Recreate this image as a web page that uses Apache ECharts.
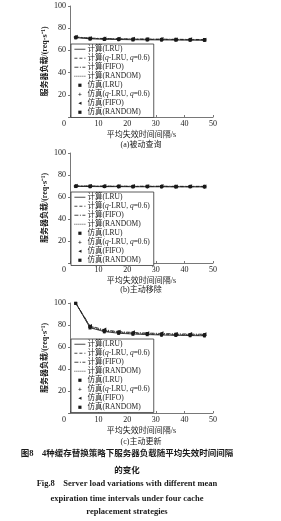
<!DOCTYPE html>
<html><head><meta charset="utf-8">
<script src="https://cdn.jsdelivr.net/npm/echarts@6/dist/echarts.min.js"></script>
<style>html,body{margin:0;padding:0;background:#fff}#c{width:281px;height:521px}</style>
</head><body><div id="c"></div>
<script>
// ---------- data ----------
const xValues = [2, 7, 12, 17, 22, 27, 32, 37, 42, 47];
const xTicks = [0, 10, 20, 30, 40, 50];
const yTicks = [0, 20, 40, 60, 80, 100];

// (a) passive query
const aCalcLRU    = [71.5, 70.4, 70.0, 69.8, 69.6, 69.5, 69.4, 69.3, 69.2, 69.1];
const aCalcQLRU   = [71.8, 70.8, 70.4, 70.2, 70.0, 69.9, 69.8, 69.7, 69.6, 69.5];
const aCalcFIFO   = [72.1, 71.1, 70.7, 70.5, 70.3, 70.2, 70.1, 70.0, 69.9, 69.8];
const aCalcRANDOM = [71.9, 70.9, 70.5, 70.3, 70.2, 70.1, 70.0, 69.9, 69.8, 69.7];
const aSimLRU     = [71.3, 70.2, 69.8, 69.7, 69.4, 69.4, 69.3, 69.2, 69.1, 69.0];
const aSimQLRU    = [71.9, 70.6, 70.5, 70.1, 70.1, 69.8, 69.9, 69.6, 69.7, 69.4];
const aSimFIFO    = [72.2, 71.0, 70.8, 70.4, 70.4, 70.1, 70.2, 69.9, 70.0, 69.7];
const aSimRANDOM  = [71.8, 70.9, 70.4, 70.4, 70.1, 70.2, 69.9, 70.0, 69.7, 69.8];

// (b) active removal
const bCalcLRU    = [69.6, 69.5, 69.4, 69.4, 69.3, 69.3, 69.3, 69.2, 69.2, 69.2];
const bCalcQLRU   = [69.8, 69.7, 69.6, 69.6, 69.5, 69.5, 69.5, 69.4, 69.4, 69.4];
const bCalcFIFO   = [70.1, 70.0, 69.9, 69.9, 69.8, 69.8, 69.8, 69.7, 69.7, 69.7];
const bCalcRANDOM = [70.0, 69.9, 69.8, 69.8, 69.7, 69.7, 69.7, 69.6, 69.6, 69.6];
const bSimLRU     = [69.5, 69.4, 69.5, 69.3, 69.2, 69.4, 69.2, 69.1, 69.3, 69.1];
const bSimQLRU    = [69.9, 69.6, 69.7, 69.5, 69.6, 69.4, 69.6, 69.3, 69.5, 69.3];
const bSimFIFO    = [70.2, 69.9, 70.0, 69.8, 69.9, 69.7, 69.9, 69.6, 69.8, 69.6];
const bSimRANDOM  = [69.9, 70.0, 69.7, 69.9, 69.6, 69.8, 69.6, 69.7, 69.5, 69.7];

// (c) active update
const cCalcLRU    = [100, 77.5, 74.0, 72.5, 71.8, 71.3, 70.9, 70.6, 70.4, 70.2];
const cCalcQLRU   = [100, 78.0, 74.5, 73.0, 72.2, 71.7, 71.3, 71.0, 70.8, 70.6];
const cCalcFIFO   = [100, 79.2, 75.6, 74.0, 73.2, 72.7, 72.3, 72.0, 71.8, 71.6];
const cCalcRANDOM = [100, 78.6, 75.0, 73.5, 72.7, 72.2, 71.8, 71.5, 71.3, 71.1];
const cSimLRU     = [99.6, 77.3, 73.8, 72.4, 71.6, 71.2, 70.8, 70.5, 70.3, 70.1];
const cSimQLRU    = [100.2, 78.2, 74.4, 73.1, 72.1, 71.8, 71.2, 71.1, 70.7, 70.7];
const cSimFIFO    = [100.3, 79.0, 75.8, 73.9, 73.3, 72.6, 72.4, 71.9, 71.9, 71.5];
const cSimRANDOM  = [99.8, 78.5, 74.9, 73.6, 72.6, 72.3, 71.7, 71.6, 71.2, 71.2];

const calcNames = ['计算(LRU)', '计算(q-LRU, q=0.6)', '计算(FIFO)', '计算(RANDOM)'];
const simNames  = ['仿真(LRU)', '仿真(q-LRU, q=0.6)', '仿真(FIFO)', '仿真(RANDOM)'];
const panelTitles = ['(a)被动查询', '(b)主动移除', '(c)主动更新'];
const xAxisName = '平均失效时间间隔/s';
const yAxisName = '服务器负载/(req·s⁻¹)';
const captionLines = [
  '图8　4种缓存替换策略下服务器负载随平均失效时间间隔',
  '的变化',
  'Fig.8　Server load variations with different mean',
  'expiration time intervals under four cache',
  'replacement strategies'
];

const panels = [
  {calc: [aCalcLRU, aCalcQLRU, aCalcFIFO, aCalcRANDOM], sim: [aSimLRU, aSimQLRU, aSimFIFO, aSimRANDOM]},
  {calc: [bCalcLRU, bCalcQLRU, bCalcFIFO, bCalcRANDOM], sim: [bSimLRU, bSimQLRU, bSimFIFO, bSimRANDOM]},
  {calc: [cCalcLRU, cCalcQLRU, cCalcFIFO, cCalcRANDOM], sim: [cSimLRU, cSimQLRU, cSimFIFO, cSimRANDOM]}
];

// ---------- styling / layout ----------
const FONT = '"Liberation Serif","Noto Sans CJK SC",serif';
const INK = '#1a1a1a';
const gridTops = [6, 153, 303];
const gridHeights = [111, 110, 110];
const legendTops = [44, 192, 339];
const titleY = [145, 290, 442];
const captionY = [454, 471, 484, 499, 512];
const dashes = ['solid', [3, 2], [4, 1.5, 1, 1.5], [1, 1]];
const plusPath = 'path://M4,0H6V4H10V6H6V10H4V6H0V4H4Z';
const simSymbols = [
  {symbol: 'rect', size: 3, rotate: 0},
  {symbol: plusPath, size: 4, rotate: 0},
  {symbol: 'triangle', size: 4, rotate: 90},
  {symbol: 'rect', size: 3, rotate: 0}
];

const grids = [], xAxes = [], yAxes = [], series = [], legends = [], graphics = [];

const legendData = calcNames.map((n, k) => ({name: n, itemStyle: {opacity: 0},
    lineStyle: {width: 0.8, color: INK, type: dashes[k], opacity: 1}}))
  .concat(simNames.map(n => ({name: n, lineStyle: {opacity: 0, width: 0}})));

panels.forEach((p, i) => {
  grids.push({left: 70, width: 143, top: gridTops[i], height: gridHeights[i]});
  xAxes.push({
    type: 'value', gridIndex: i, min: 0, max: 50, interval: 10,
    name: xAxisName, nameLocation: 'middle', nameGap: 14, nameMoveOverlap: false,
    nameTextStyle: {fontFamily: FONT, fontSize: 8, color: INK},
    axisLine: {show: true, lineStyle: {color: '#555', width: 0.8}},
    axisTick: {show: true, inside: true, length: 2, lineStyle: {color: '#555', width: 0.8}},
    axisLabel: {
      fontFamily: FONT, fontSize: 8, color: INK, margin: 3,
      formatter: v => v === 0 ? '{o|0}' : String(v),
      rich: {o: {fontFamily: FONT, fontSize: 8, color: INK, padding: [0, 12, 0, 0]}}
    },
    splitLine: {show: false}
  });
  yAxes.push({
    type: 'value', gridIndex: i, min: 0, max: 100, interval: 20,
    name: yAxisName, nameLocation: 'middle', nameGap: 21, nameRotate: 90, nameMoveOverlap: false,
    nameTextStyle: {fontFamily: FONT, fontSize: 8, color: INK, fontWeight: 'bold'},
    axisLine: {show: true, lineStyle: {color: '#555', width: 0.8}},
    axisTick: {show: true, length: 2, lineStyle: {color: '#555', width: 0.8}},
    axisLabel: {fontFamily: FONT, fontSize: 8, color: INK, margin: 4, formatter: v => v === 0 ? '' : String(v)},
    splitLine: {show: false}
  });
  p.calc.forEach((arr, k) => {
    series.push({
      name: calcNames[k], type: 'line', xAxisIndex: i, yAxisIndex: i,
      data: xValues.map((x, j) => [x, arr[j]]),
      symbol: 'none', silent: true, animation: false,
      itemStyle: {color: INK},
      lineStyle: {color: INK, width: 0.8, type: dashes[k]}
    });
  });
  p.sim.forEach((arr, k) => {
    series.push({
      name: simNames[k], type: 'line', xAxisIndex: i, yAxisIndex: i,
      data: xValues.map((x, j) => [x, arr[j]]),
      showSymbol: true, showAllSymbol: true,
      symbol: simSymbols[k].symbol, symbolSize: simSymbols[k].size, symbolRotate: simSymbols[k].rotate,
      lineStyle: {width: 0, opacity: 0},
      itemStyle: {color: INK}, animation: false, silent: true
    });
  });
  legends.push({
    orient: 'vertical', left: 71, top: legendTops[i],
    itemWidth: 11, itemHeight: 4, itemGap: 1.5,
    padding: [1.5, 4, 1.5, 3], borderColor: '#333', borderWidth: 0.8, backgroundColor: '#fff',
    selectedMode: false,
    data: legendData,
    formatter: n => n.replace(/q(?=[-=])/g, '{i|q}'),
    textStyle: {fontFamily: FONT, fontSize: 7.5, color: INK, lineHeight: 7, padding: [0, 0, 0, -3],
      rich: {i: {fontFamily: FONT, fontSize: 7.5, fontStyle: 'italic', color: INK, lineHeight: 7}}}
  });
  graphics.push({type: 'text', x: 141, y: titleY[i], style: {text: panelTitles[i], font: '8px ' + FONT, fill: INK, textAlign: 'center', textVerticalAlign: 'middle'}});
});

captionLines.forEach((t, i) => {
  graphics.push({type: 'text', x: 127, y: captionY[i], style: {
    text: t, fill: INK, textAlign: 'center', textVerticalAlign: 'middle',
    font: 'bold 8.5px ' + FONT
  }});
});

const chart = echarts.init(document.getElementById('c'), null, {renderer: 'canvas'});
chart.setOption({
  animation: false,
  color: [INK],
  backgroundColor: '#fff',
  grid: grids, xAxis: xAxes, yAxis: yAxes, series: series, legend: legends,
  graphic: graphics
});
</script></body></html>
